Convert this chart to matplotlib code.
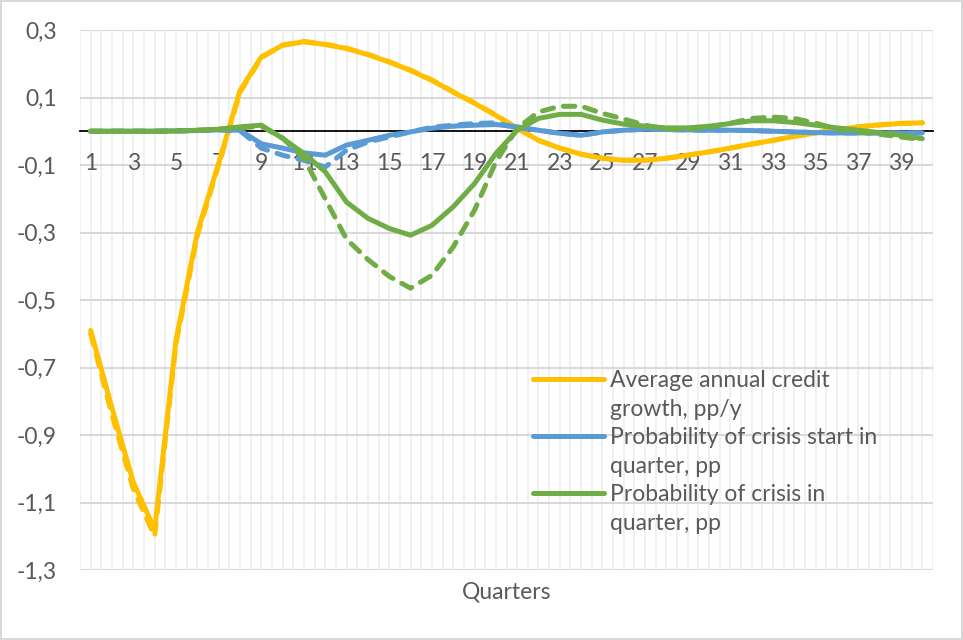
import matplotlib
matplotlib.use("Agg")
import matplotlib.pyplot as plt
from matplotlib.lines import Line2D
import numpy as np

plt.rcParams['font.family'] = ['Lato', 'DejaVu Sans']

quarters = list(range(1, 41))

credit_solid = [-0.59, -0.82, -1.04, -1.18, -0.62, -0.30, -0.095, 0.12, 0.22, 0.255,
                0.265, 0.257, 0.245, 0.227, 0.205, 0.18, 0.151, 0.116, 0.083, 0.047,
                0.009, -0.027, -0.05, -0.068, -0.08, -0.086, -0.086, -0.08, -0.071, -0.061,
                -0.05, -0.038, -0.027, -0.015, -0.005, 0.005, 0.013, 0.019, 0.023, 0.025]
credit_dashed = [-0.60, -0.84, -1.06, -1.20, -0.63, -0.31, -0.10, 0.115, 0.218, 0.255,
                 0.266, 0.258, 0.246, 0.228, 0.206, 0.181, 0.152, 0.117, 0.084, 0.048,
                 0.009, -0.027, -0.05, -0.068, -0.08, -0.086, -0.086, -0.08, -0.071, -0.061,
                 -0.05, -0.038, -0.027, -0.015, -0.005, 0.005, 0.013, 0.019, 0.023, 0.025]

start_solid = [0.0, 0.0, 0.0, 0.0, 0.001, 0.002, 0.004, 0.003, -0.037, -0.05,
               -0.064, -0.071, -0.041, -0.027, -0.012, -0.002, 0.009, 0.015, 0.018, 0.02,
               0.013, 0.003, -0.006, -0.012, -0.002, 0.003, 0.006, 0.005, 0.004, 0.003,
               0.003, 0.002, 0.0, -0.002, -0.004, -0.005, -0.005, -0.005, -0.005, -0.005]
start_dashed = [0.0, 0.0, 0.0, 0.0, 0.001, 0.002, 0.004, 0.002, -0.05, -0.071,
                -0.086, -0.106, -0.056, -0.032, -0.017, -0.002, 0.012, 0.018, 0.023, 0.025,
                0.01, 0.003, -0.006, -0.012, -0.002, 0.003, 0.006, 0.005, 0.004, 0.003,
                0.003, 0.002, 0.0, -0.002, -0.004, -0.005, -0.005, -0.005, -0.005, -0.005]

crisis_solid = [0.0, 0.0, 0.0, 0.0, 0.001, 0.003, 0.006, 0.013, 0.018, -0.021,
                -0.066, -0.12, -0.21, -0.258, -0.288, -0.308, -0.279, -0.224, -0.155, -0.066,
                0.003, 0.038, 0.05, 0.05, 0.033, 0.021, 0.015, 0.01, 0.01, 0.015,
                0.023, 0.031, 0.031, 0.026, 0.018, 0.01, 0.003, -0.004, -0.012, -0.022]
crisis_dashed = [0.0, 0.0, 0.0, 0.0, 0.001, 0.003, 0.006, 0.01, 0.015, -0.02,
                 -0.08, -0.2, -0.32, -0.38, -0.43, -0.465, -0.427, -0.343, -0.234, -0.091,
                 0.009, 0.057, 0.074, 0.074, 0.053, 0.036, 0.018, 0.006, 0.006, 0.012,
                 0.024, 0.038, 0.042, 0.038, 0.024, 0.006, -0.002, -0.009, -0.017, -0.025]

labels = ["Average annual credit\ngrowth, pp/y",
          "Probability of crisis start in\nquarter, pp",
          "Probability of crisis in\nquarter, pp"]
yticks = [0.3, 0.1, -0.1, -0.3, -0.5, -0.7, -0.9, -1.1, -1.3]
xtick_labels = [str(q) for q in quarters[::2]]

YELLOW = '#FFC000'
BLUE = '#5B9BD5'
GREEN = '#70AD47'
TXT = '#595959'
FS = 16.5

fig = plt.figure(figsize=(9.63, 6.40), dpi=100)
fig.patch.set_edgecolor('#D9D9D9')
fig.patch.set_linewidth(1.5)
ax = fig.add_axes([80/963, 1-570/640, (933-80)/963, (570-30)/640])

ax.set_xlim(0.5, 40.5)
ax.set_ylim(-1.3, 0.3)

# gridlines
for gx in np.arange(0.5, 41.0, 0.5):
    ax.axvline(gx, color='#EDEDED', lw=1.2, zorder=0)
for gy in yticks:
    ax.axhline(gy, color='#D9D9D9', lw=1.5, zorder=0.5)

lw = 3.6
dash = (0, (2.3, 2.0))
kw_d = dict(lw=lw, ls=dash, dash_capstyle='round', zorder=3)
kw_s = dict(lw=lw, solid_capstyle='round', solid_joinstyle='round', zorder=3)
ax.plot(quarters, credit_dashed, color=YELLOW, **kw_d)
ax.plot(quarters, credit_solid, color=YELLOW, **kw_s)
ax.plot(quarters, start_dashed, color=BLUE, **kw_d)
ax.plot(quarters, start_solid, color=BLUE, **kw_s)
ax.plot(quarters, crisis_dashed, color=GREEN, **kw_d)
ax.plot(quarters, crisis_solid, color=GREEN, **kw_s)

for s in ['top', 'right', 'left']:
    ax.spines[s].set_visible(False)
ax.spines['bottom'].set_position(('data', 0))
ax.spines['bottom'].set_color('black')
ax.spines['bottom'].set_linewidth(1.3)
ax.spines['bottom'].set_zorder(2)

ax.set_xticks(quarters[::2])
ax.set_xticklabels(xtick_labels)
ax.set_yticks(yticks)
ax.set_yticklabels([f"{v:.1f}".replace('.', ',') for v in yticks])
ax.tick_params(axis='x', length=0, pad=16, labelsize=FS, labelcolor=TXT)
ax.tick_params(axis='y', length=0, pad=16.5, labelsize=FS, labelcolor=TXT)

ax.text(0.5, -0.041, 'Quarters', transform=ax.transAxes, ha='center', va='center',
        fontsize=FS, color=TXT)

blank = Line2D([], [], color='none')
handles = [Line2D([], [], color=YELLOW, lw=lw, solid_capstyle='round'), blank,
           Line2D([], [], color=BLUE, lw=lw, solid_capstyle='round'), blank,
           Line2D([], [], color=GREEN, lw=lw, solid_capstyle='round'), blank]
leg_labels = []
for l in labels:
    leg_labels.extend(l.split('\n'))
leg = ax.legend(handles, leg_labels, loc='upper left', bbox_to_anchor=(533/963, 1-370/640),
                bbox_transform=fig.transFigure, frameon=False, fontsize=FS,
                handlelength=3.1, handletextpad=0.25, labelspacing=0.33, borderpad=0,
                borderaxespad=0)
for t in leg.get_texts():
    t.set_color(TXT)

fig.savefig('out.png', dpi=100)
